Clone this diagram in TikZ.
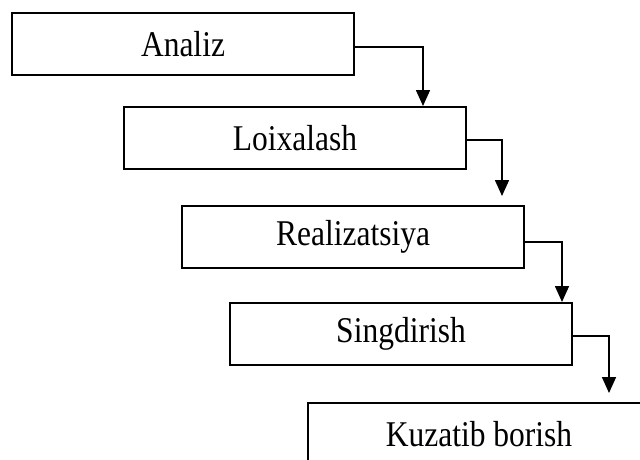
\documentclass[tikz,border=0pt]{standalone}
\usepackage{fontspec}
\setmainfont{Liberation Serif}
\usetikzlibrary{arrows.meta}
\begin{document}
\begin{tikzpicture}[x=1pt,y=-1pt,
  stage/.style={draw=black,line width=2pt,anchor=north west,
    minimum width=342pt,minimum height=62pt,inner sep=0pt,
    font=\fontsize{31.5}{36}\selectfont},
  flow/.style={draw=black,line width=1.6pt,
    -{Triangle[width=14pt,length=16pt]}}]
\clip (0,0) rectangle (640,459);
\fill[white] (0,0) rectangle (640,459);
% the five stages, stepping down to the right
\node[stage] (s1) at (11,12)  {\scalebox{1}[1.15]{Analiz}};
\node[stage] (s2) at (123,106) {\scalebox{1}[1.15]{Loixalash}};
\node[stage] (s3) at (181,205) {\scalebox{1}[1.15]{Realizatsiya}};
\node[stage] (s4) at (229,302) {\scalebox{1}[1.15]{Singdirish}};
\node[stage] (s5) at (307,402) {\scalebox{1}[1.15]{Kuzatib borish}};
% connectors from each stage to the next
\draw[flow] ([yshift=-3pt]s1.east) -| ([xshift=300pt]s2.north west);
\draw[flow,shorten >=9pt] ([yshift=-2pt]s2.east) -| ([xshift=321pt]s3.north west);
\draw[flow] ([yshift=-5pt]s3.east) -| ([xshift=333pt]s4.north west);
\draw[flow,shorten >=9pt] ([yshift=-2pt]s4.east) -| ([xshift=302pt]s5.north west);
\end{tikzpicture}
\end{document}
